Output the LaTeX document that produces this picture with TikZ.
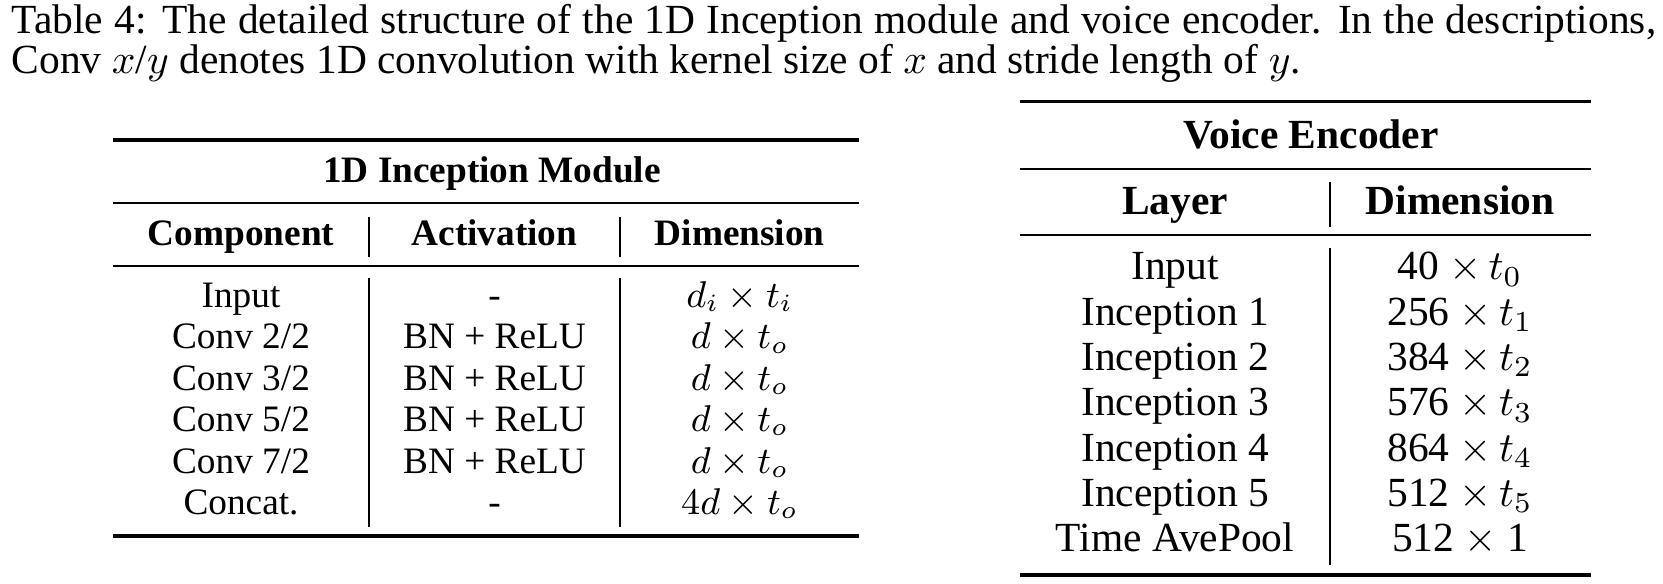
\documentclass[tikz,border=0pt]{standalone}
\usepackage{amsmath,amssymb}
\usepackage{fontspec}
\setmainfont{Liberation Serif}
\usetikzlibrary{positioning}

\begin{document}
\begin{tikzpicture}[x=0.2413pt,y=-0.2413pt]
        \tikzstyle{lcell} = [inner sep=0pt, text height=7pt, text depth=2pt, node distance=10pt, font=\fontsize{9}{10}\selectfont]
        \tikzstyle{lhead} = [lcell, font=\fontsize{9}{10}\selectfont\bfseries]
        \tikzstyle{rcell} = [inner sep=0pt, text height=7.5pt, text depth=2.2pt, node distance=10.93pt, font=\fontsize{10}{11}\selectfont]
        \tikzstyle{rhead} = [rcell, font=\fontsize{10}{11}\selectfont\bfseries]
        \tikzstyle{heavy} = [line width=0.8pt]
        \tikzstyle{light} = [line width=0.5pt]
        \tikzstyle{vrule} = [line width=0.4pt]
        \fill[white] (0,0) rectangle (1663,584);
        \useasboundingbox (0,0) rectangle (1663,584);
        %Caption
        \node[anchor=base west, inner sep=0pt] at (11,33.3) (cap1) {\makebox[396.8pt][s]{Table 4: The detailed structure of the 1D Inception module and voice encoder. In the descriptions,}};
        \node[anchor=base west, inner sep=0pt] at (11,74) (cap2) {Conv $x$/$y$ denotes 1D convolution with kernel size of $x$ and stride length of $y$.};

        %1D Inception Module
        \node[lhead, anchor=base] at (492,182.7) (ltitle) {1D Inception Module};
        \node[lhead, anchor=base] at (241,246) (hcomp) {Component};
        \node[lhead, anchor=base] at (494.5,246) (hact) {Activation};
        \node[lhead, anchor=base] at (739.7,246) (hdim) {Dimension};
        \node[lcell, anchor=base] at (241,307.5) (cin) {Input};
        \node[lcell, below of=cin] (cc2) {Conv 2/2};
        \node[lcell, below of=cc2] (cc3) {Conv 3/2};
        \node[lcell, below of=cc3] (cc5) {Conv 5/2};
        \node[lcell, below of=cc5] (cc7) {Conv 7/2};
        \node[lcell, below of=cc7] (ccat) {Concat.};
        \node[lcell, anchor=base] at (494.5,307.5) (ain) {-};
        \node[lcell, below of=ain] (ac2) {BN + ReLU};
        \node[lcell, below of=ac2] (ac3) {BN + ReLU};
        \node[lcell, below of=ac3] (ac5) {BN + ReLU};
        \node[lcell, below of=ac5] (ac7) {BN + ReLU};
        \node[lcell, below of=ac7] (acat) {-};
        \node[lcell, anchor=base] at (739.7,307.5) (din) {$d_i \times t_i$};
        \node[lcell, below of=din] (dc2) {$d \times t_o$};
        \node[lcell, below of=dc2] (dc3) {$d \times t_o$};
        \node[lcell, below of=dc3] (dc5) {$d \times t_o$};
        \node[lcell, below of=dc5] (dc7) {$d \times t_o$};
        \node[lcell, below of=dc7] (dcat) {$4d \times t_o$};

        %Voice Encoder
        \node[rhead, anchor=base] at (1311,148.3) (rtitle) {Voice Encoder};
        \node[rhead, anchor=base] at (1175,214.3) (hlay) {Layer};
        \node[rhead, anchor=base] at (1460,214.3) (hrdim) {Dimension};
        \node[rcell, anchor=base] at (1175,280) (lin) {Input};
        \node[rcell, below of=lin] (linc1) {Inception 1};
        \node[rcell, below of=linc1] (linc2) {Inception 2};
        \node[rcell, below of=linc2] (linc3) {Inception 3};
        \node[rcell, below of=linc3] (linc4) {Inception 4};
        \node[rcell, below of=linc4] (linc5) {Inception 5};
        \node[rcell, below of=linc5] (lpool) {Time AvePool};
        \node[rcell, anchor=base] at (1460,280) (rin) {40 $\times\, t_0$};
        \node[rcell, below of=rin] (rinc1) {256 $\times\, t_1$};
        \node[rcell, below of=rinc1] (rinc2) {384 $\times\, t_2$};
        \node[rcell, below of=rinc2] (rinc3) {576 $\times\, t_3$};
        \node[rcell, below of=rinc3] (rinc4) {864 $\times\, t_4$};
        \node[rcell, below of=rinc4] (rinc5) {512 $\times\, t_5$};
        \node[rcell, below of=rinc5] (rpool) {512 $\times$ 1};

        %Rules
        \begin{scope}
            \draw[heavy] (113,140) -- (859,140);
            \draw[light] (113,203.3) -- (859,203.3);
            \draw[light] (113,265.7) -- (859,265.7);
            \draw[heavy] (113,536) -- (859,536);
            \draw[vrule] (368.7,216.7) -- (368.7,256.7);
            \draw[vrule] (620.3,216.7) -- (620.3,256.7);
            \draw[vrule] (368.7,278) -- (368.7,526.7);
            \draw[vrule] (620.3,278) -- (620.3,526.7);
            \draw[heavy] (1019.5,101.7) -- (1591,101.7);
            \draw[light] (1019.5,169) -- (1591,169);
            \draw[light] (1019.5,235) -- (1591,235);
            \draw[heavy] (1019.5,575) -- (1591,575);
            \draw[vrule] (1330,181.7) -- (1330,226.7);
            \draw[vrule] (1330,248) -- (1330,565);
        \end{scope}
\end{tikzpicture}
\end{document}
